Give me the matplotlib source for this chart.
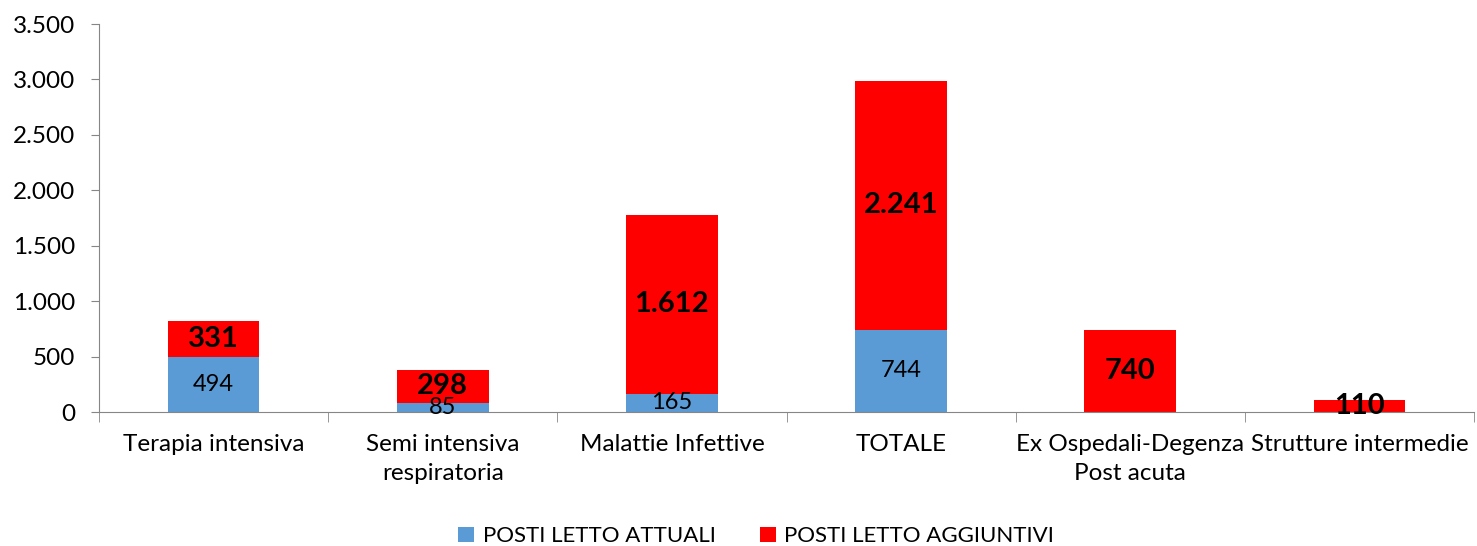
import numpy as np
import matplotlib.pyplot as plt
from matplotlib.ticker import FuncFormatter, FixedLocator

plt.rcParams['font.family'] = ['Lato', 'DejaVu Sans']

categories = ['Terapia intensiva', 'Semi intensiva\nrespiratoria', 'Malattie Infettive',
              'TOTALE', 'Ex Ospedali-Degenza\nPost acuta', 'Strutture intermedie']
attuali = [494, 85, 165, 744, 0, 0]
aggiuntivi = [331, 298, 1612, 2241, 740, 110]

BLUE = '#5B9BD5'
RED = '#FF0000'
AXIS = '#868686'


def it_fmt(v, _pos=None):
    return f'{int(round(v)):,}'.replace(',', '.')


fig = plt.figure(figsize=(14.77, 5.46), dpi=100)
ax = fig.add_axes([0.067, 0.2454, 0.931, 0.7106])

x = np.arange(len(categories))
w = 0.4
ax.bar(x, attuali, w, color=BLUE, label='POSTI LETTO ATTUALI', zorder=2)
ax.bar(x, aggiuntivi, w, bottom=attuali, color=RED, label='POSTI LETTO AGGIUNTIVI', zorder=2)

for xi, a, b in zip(x, attuali, aggiuntivi):
    if a > 0:
        ax.text(xi, a / 2, it_fmt(a), ha='center', va='center', fontsize=17, zorder=3)
    ax.text(xi, a + b / 2, it_fmt(b), ha='center', va='center', fontsize=21,
            fontweight='bold', zorder=3)

ax.set_xlim(-0.5, len(categories) - 0.5)
ax.set_ylim(0, 3500)
ax.set_yticks(np.arange(0, 3501, 500))
ax.yaxis.set_major_formatter(FuncFormatter(it_fmt))
ax.tick_params(axis='y', labelsize=17.5, length=6, color=AXIS, pad=11)

ax.set_xticks(x)
ax.set_xticklabels(categories, fontsize=17.5, linespacing=1.45)
ax.tick_params(axis='x', length=0, pad=16)
ax.xaxis.set_minor_locator(FixedLocator(np.arange(-0.5, len(categories), 1)))
ax.tick_params(axis='x', which='minor', length=7, color=AXIS)

for s in ['top', 'right']:
    ax.spines[s].set_visible(False)
for s in ['left', 'bottom']:
    ax.spines[s].set_color(AXIS)

handles, labels = ax.get_legend_handles_labels()
fig.legend(handles, labels, loc='center', bbox_to_anchor=(0.512, 0.018), ncol=2,
           frameon=False, fontsize=16, handlelength=0.7, handleheight=0.7,
           columnspacing=2.0, handletextpad=0.4)

fig.savefig('out.png', dpi=100)
